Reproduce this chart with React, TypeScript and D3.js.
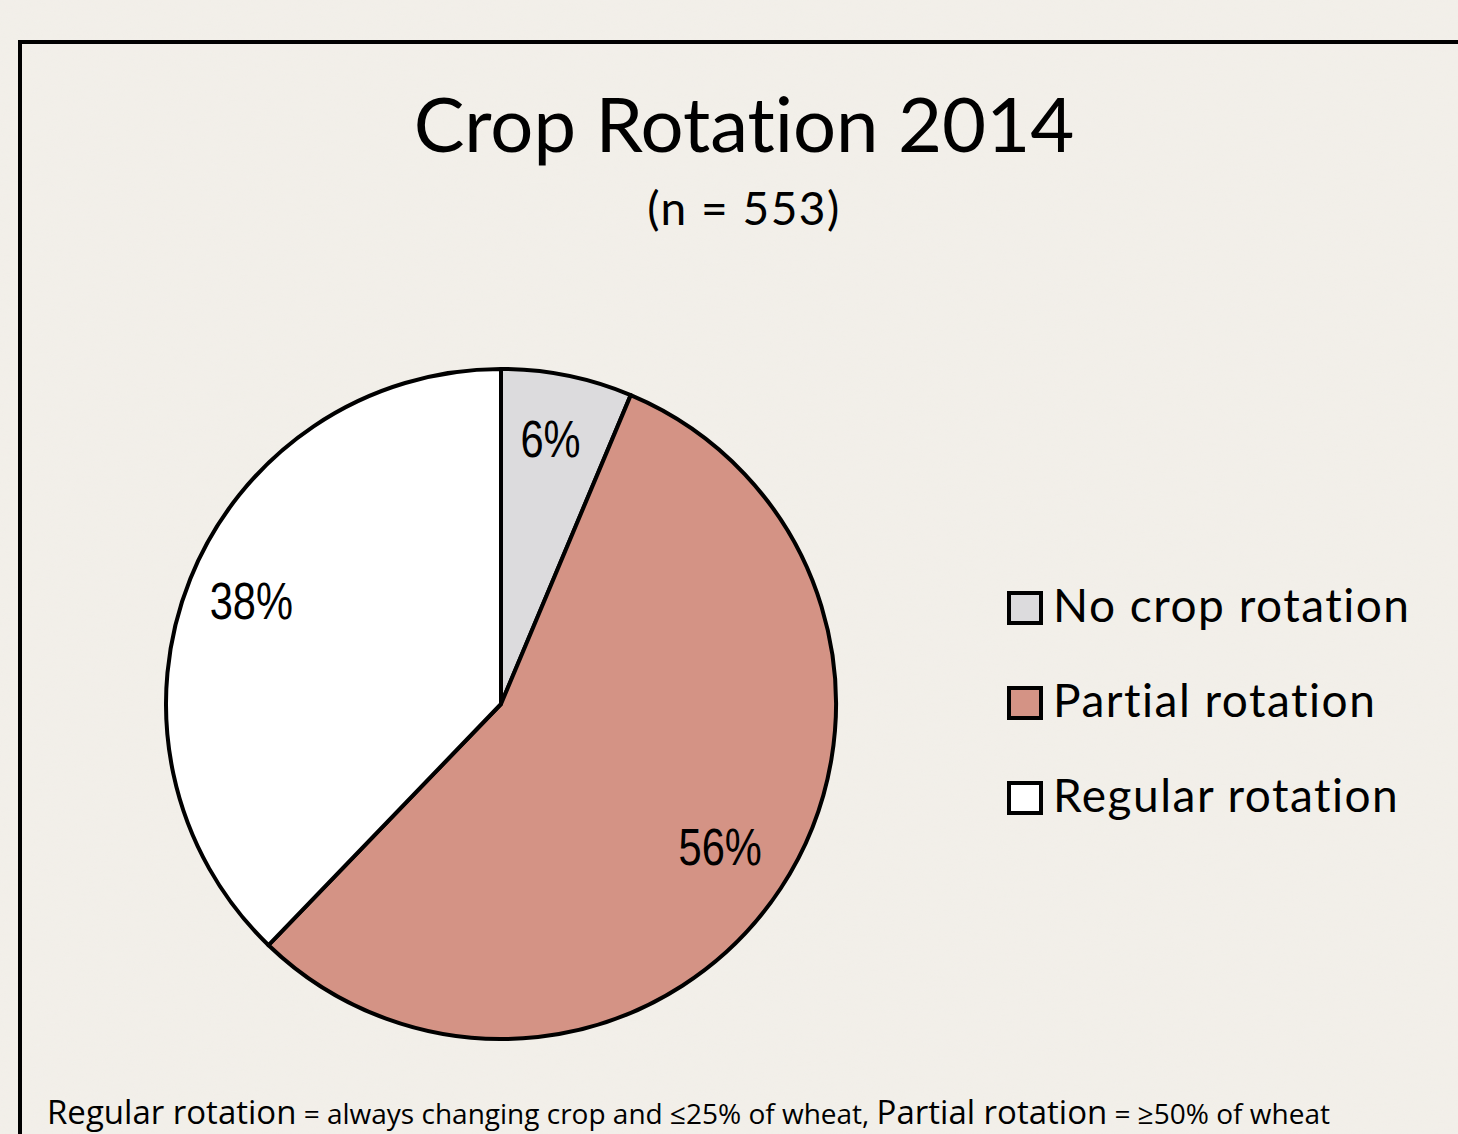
import React from "react";
import * as d3 from "d3";

const categories = ["No crop rotation", "Partial rotation", "Regular rotation"];
const counts = [35, 309, 209];
const pctLabels = ["6%", "56%", "38%"];
const colors = ["#dcdbdd", "#d49385", "#ffffff"];
const titleText = "Crop Rotation 2014";
const subtitleText = "(n = 553)";

const W = 1458;
const H = 1134;

export default function App() {
  const cx = 501;
  const cy = 704;
  const r = 335;
  const pie = d3.pie<number>().sort(null).value((d) => d);
  const arcs = pie(counts);
  const arcGen = d3.arc<d3.PieArcDatum<number>>().innerRadius(0).outerRadius(r);
  const labelArc = d3.arc<d3.PieArcDatum<number>>().innerRadius(266).outerRadius(266);
  const legendY = d3.scalePoint<string>().domain(categories).range([607, 797]);

  return (
    <svg
      width={W}
      height={H}
      style={{ position: "absolute", left: 0, top: 0, display: "block" }}
    >
      <defs>
        <filter id="paper" x="0" y="0" width="100%" height="100%">
          <feTurbulence type="fractalNoise" baseFrequency="0.04 0.25" numOctaves="3" seed="4" result="n" />
          <feColorMatrix
            in="n"
            type="matrix"
            values="0 0 0 0 0.88  0 0 0 0 0.86  0 0 0 0 0.82  0 0 0 0.5 0"
          />
          <feComposite in2="SourceGraphic" operator="in" />
        </filter>
      </defs>
      <rect x={0} y={0} width={W} height={H} fill="#f2efe9" />
      <rect x={0} y={0} width={W} height={H} fill="#f2efe9" filter="url(#paper)" opacity={0.6} />
      <rect x={20} y={42} width={W + 20} height={H + 20} fill="none" stroke="#000" strokeWidth={4} />

      <text
        x={744}
        y={152}
        textAnchor="middle"
        fontFamily="Lato, 'Open Sans', sans-serif"
        fontSize={76}
        style={{ fontVariantLigatures: "none" }}
        fill="#000"
      >
        {titleText}
      </text>
      <text
        x={744}
        y={225}
        textAnchor="middle"
        fontFamily="Lato, 'Open Sans', sans-serif"
        fontSize={46}
        letterSpacing={1.5}
        fill="#000"
      >
        {subtitleText}
      </text>

      <g transform={`translate(${cx},${cy})`}>
        {arcs.map((a, i) => (
          <path key={i} d={arcGen(a) || ""} fill={colors[i]} stroke="#000" strokeWidth={4} strokeLinejoin="round" />
        ))}
        {arcs.map((a, i) => {
          const [lx, ly] = labelArc.centroid(a);
          return (
            <text
              key={"l" + i}
              transform={`translate(${lx - 3},${ly - 4}) scale(0.8,1)`}
              textAnchor="middle"
              dominantBaseline="central"
              fontFamily="'Liberation Sans', Arial, sans-serif"
              fontSize={52}
              fill="#000"
            >
              {pctLabels[i]}
            </text>
          );
        })}
      </g>

      {categories.map((c, i) => {
        const y = legendY(c) as number;
        return (
          <g key={c}>
            <rect x={1009} y={y - 14} width={32} height={30} fill={colors[i]} stroke="#000" strokeWidth={4} />
            <text
              x={1053}
              y={y + 15}
              fontFamily="Lato, 'Open Sans', sans-serif"
              fontSize={46}
              letterSpacing={1.5}
              style={{ fontVariantLigatures: "none" }}
              fill="#000"
            >
              {c}
            </text>
          </g>
        );
      })}

      <text x={47} y={1124} fontFamily="'Open Sans', 'Noto Sans', sans-serif" fill="#000">
        <tspan fontSize={33}>Regular rotation</tspan>
        <tspan fontSize={28}> = always changing crop and ≤25% of wheat, </tspan>
        <tspan fontSize={33}>Partial rotation</tspan>
        <tspan fontSize={28}> = ≥50% of wheat</tspan>
      </text>
    </svg>
  );
}
